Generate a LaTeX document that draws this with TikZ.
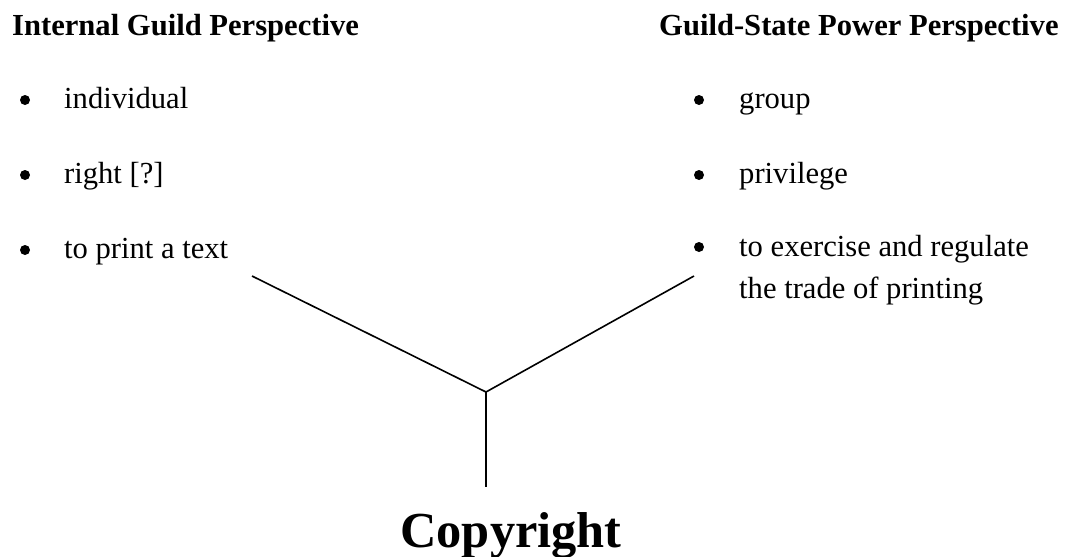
\documentclass[tikz,border=0pt]{standalone}
\usepackage{fontspec}
\setmainfont{Liberation Serif}
\begin{document}
\begin{tikzpicture}[x=1pt, y=-1pt,
    head/.style={anchor=base west, inner sep=0pt, font=\fontsize{30.6}{36}\selectfont\bfseries},
    item/.style={anchor=base west, inner sep=0pt, font=\fontsize{30.6}{42}\selectfont},
    dot/.style={circle, fill=black, inner sep=0pt, minimum size=10pt},
    branch/.style={line width=1.6pt, black}]
    % 1. Picture frame
    \useasboundingbox (0,0) rectangle (1066,557);

    % 2. Left column: internal guild view
    \node[head] (lhead) at (12,35) {Internal Guild Perspective};
    \node[dot] (ldot1) at (25,100) {};
    \node[item] (l1) at (64,108) {individual};
    \node[dot] (ldot2) at (25,175) {};
    \node[item] (l2) at (64,183) {right [?]};
    \node[dot] (ldot3) at (25,250) {};
    \node[item] (l3) at (64,258) {to print a text};

    % 3. Right column: guild-state power view
    \node[head] (rhead) at (659,35) {Guild-State Power Perspective};
    \node[dot] (rdot1) at (699,100) {};
    \node[item] (r1) at (739,108) {group};
    \node[dot] (rdot2) at (699,175) {};
    \node[item] (r2) at (739,183) {privilege};
    \node[dot] (rdot3) at (699,247) {};
    \node[item] (r3) at (739,256) {to exercise and regulate};
    \node[item] (r3b) at (739,298) {the trade of printing};

    % 4. Result at the bottom
    \node[anchor=base, inner sep=0pt, font=\fontsize{50.4}{60}\selectfont\bfseries]
        (copy) at (511,547) {Copyright};

    % 5. The fork joining both views
    \coordinate (lend) at (252,276);
    \coordinate (rend) at (694,276);
    \coordinate (fork) at (486,392);
    \coordinate (stem) at (486,487);
    \draw[branch] (lend) -- (fork) -- (rend);
    \draw[branch] (fork) -- (stem);
\end{tikzpicture}
\end{document}
